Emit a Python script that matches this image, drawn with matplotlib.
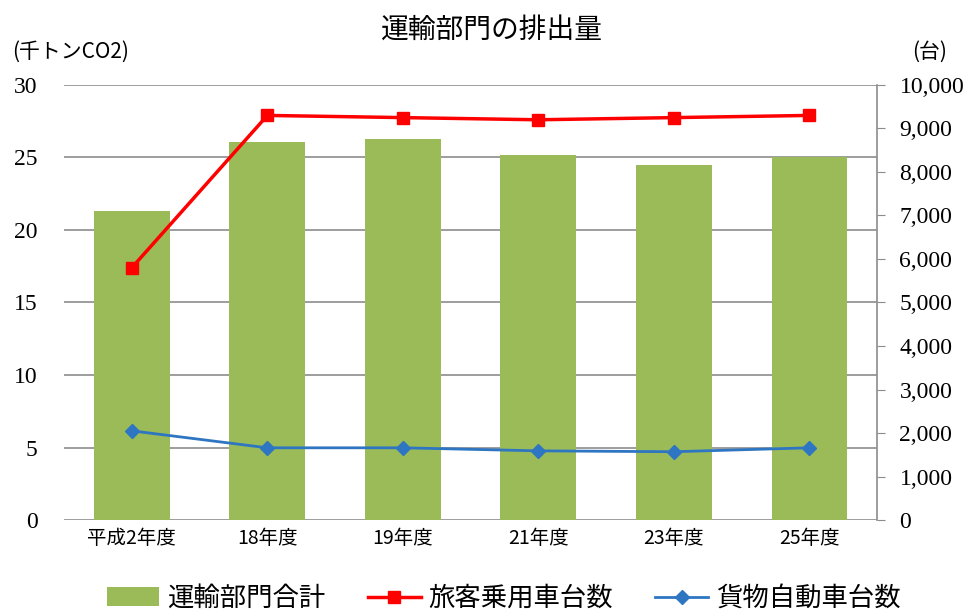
import numpy as np
import matplotlib.pyplot as plt
from matplotlib.lines import Line2D
from matplotlib.patches import Patch

plt.rcParams['font.family'] = ['Noto Sans CJK JP', 'DejaVu Sans']

# data
years = ['平成2年度', '18年度', '19年度', '21年度', '23年度', '25年度']
emissions = [21.3, 26.1, 26.3, 25.2, 24.5, 25.0]          # 千トンCO2
passenger_cars = [5800, 9300, 9250, 9200, 9250, 9300]     # 台
freight_cars = [2050, 1660, 1660, 1590, 1570, 1660]       # 台

green = '#9bbb59'
red = '#ff0000'
blue = '#2e75c2'
grid = '#8c8c8c'
num_font = 'Liberation Serif'

fig = plt.figure(figsize=(9.78, 6.10), dpi=100)
ax = fig.add_axes([0.0655, 0.1475, 0.8315, 0.7132])
ax2 = ax.twinx()

x = np.arange(len(years))

# bars on left axis
ax.bar(x, emissions, width=0.56, color=green, zorder=2)
ax.set_ylim(0, 30)
ax.set_yticks(np.arange(0, 31, 5))
ax.set_xlim(-0.5, len(years) - 0.5)
ax.yaxis.grid(True, color=grid, linewidth=1.2, zorder=0)
ax.set_axisbelow(True)
ax.set_xticks(x)
ax.set_xticklabels(years, fontsize=14)
ax.tick_params(axis='x', length=0, pad=6)
ax.tick_params(axis='y', length=0, pad=19, labelsize=17)
for lab in ax.get_yticklabels():
    lab.set_family(num_font)
for s in ['top', 'left', 'right', 'bottom']:
    ax.spines[s].set_visible(False)

# lines on right axis
ax2.plot(x, passenger_cars, color=red, linewidth=2.5, marker='s',
         markersize=9, zorder=3)
ax2.plot(x, freight_cars, color=blue, linewidth=2, marker='D',
         markersize=7, zorder=3)
ax2.set_ylim(0, 10000)
ax2.set_yticks(np.arange(0, 10001, 1000))
ax2.set_yticklabels([f'{v:,}' for v in range(0, 10001, 1000)])
ax2.tick_params(axis='y', length=6, color=grid, pad=10, labelsize=17)
for lab in ax2.get_yticklabels():
    lab.set_family(num_font)
for s in ['top', 'left', 'bottom']:
    ax2.spines[s].set_visible(False)
ax2.spines['right'].set_color(grid)
ax2.spines['right'].set_linewidth(1.2)

fig.text(0.503, 0.952, '運輸部門の排出量', ha='center', va='center', fontsize=20)
fig.text(0.012, 0.915, '(千トンCO2)', ha='left', va='center', fontsize=15)
fig.text(0.933, 0.915, '(台)', ha='left', va='center', fontsize=15)

handles = [
    Patch(facecolor=green),
    Line2D([], [], color=red, linewidth=2.5, marker='s', markersize=9),
    Line2D([], [], color=blue, linewidth=2, marker='D', markersize=7),
]
labels = ['運輸部門合計', '旅客乗用車台数', '貨物自動車台数']
fig.legend(handles, labels, loc='lower center', bbox_to_anchor=(0.515, -0.042),
           ncol=3, frameon=False, fontsize=19, handlelength=2.0,
           columnspacing=1.6, handletextpad=0.3)

fig.savefig('out.png', dpi=100)
